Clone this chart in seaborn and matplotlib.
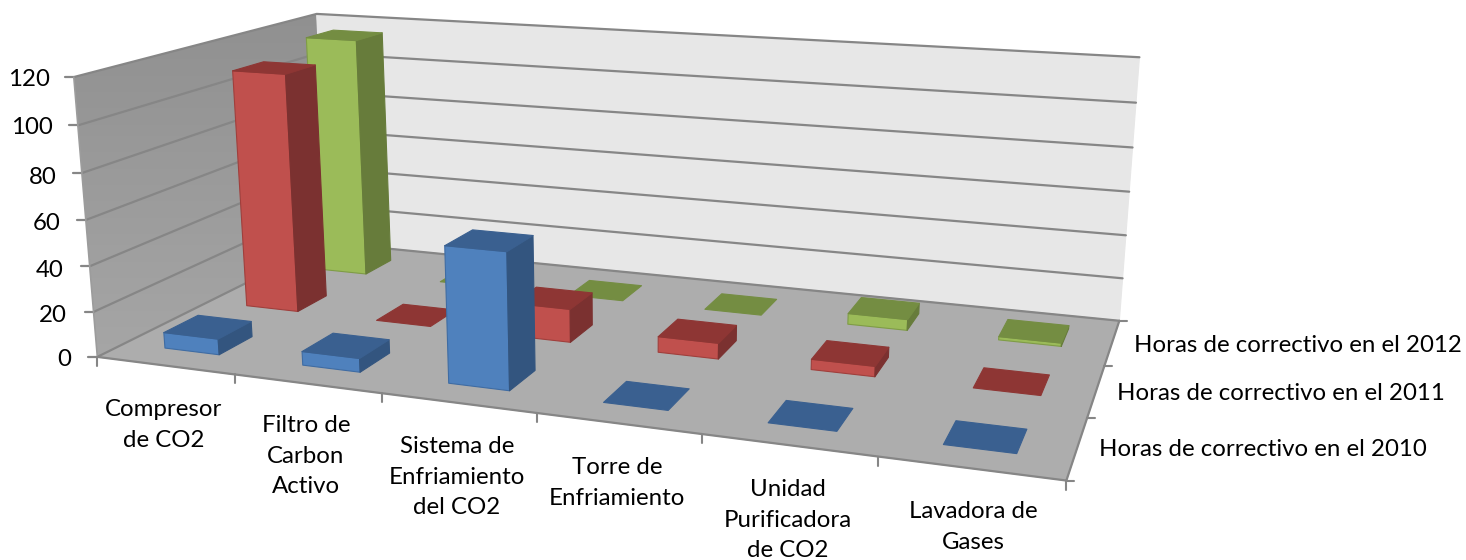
import numpy as np
import pandas as pd
import seaborn as sns
import matplotlib
matplotlib.use("Agg")
import matplotlib.pyplot as plt
from matplotlib.patches import Polygon

# Chart data
categories = ["Compresor\nde CO2", "Filtro de\nCarbon\nActivo", "Sistema de\nEnfriamiento\ndel CO2",
              "Torre de\nEnfriamiento", "Unidad\nPurificadora\nde CO2", "Lavadora de\nGases"]
series_names = ["Horas de correctivo en el 2010", "Horas de correctivo en el 2011",
                "Horas de correctivo en el 2012"]
hours_2010 = [7, 6, 58, 0, 0, 0]
hours_2011 = [110, 0, 15, 7, 4.5, 0]
hours_2012 = [115.5, 0, 0, 0, 5, 1.5]
value_ticks = [0, 20, 40, 60, 80, 100, 120]

frame = pd.DataFrame({"category": categories, series_names[0]: hours_2010,
                      series_names[1]: hours_2011, series_names[2]: hours_2012})
long_frame = frame.melt("category", var_name="series", value_name="hours")

sns.set_theme(style="white")
plt.rcParams["font.family"] = ["Lato", "DejaVu Sans"]

# Camera: a 3x4 projection fitted to the frame of the 3D box
# (category position, series depth, value) -> canvas pixels
frame_anchors = [
    ((0, 0, 0), (97, 356)), ((1, 0, 0), (235, 374)), ((2, 0, 0), (382, 393)), ((3, 0, 0), (537, 413)),
    ((4, 0, 0), (702, 435)), ((5, 0, 0), (878, 458)), ((6, 0, 0), (1067, 480)),
    ((6, 1, 0), (1087, 417)), ((6, 2, 0), (1103, 366)), ((6, 3, 0), (1119, 320)), ((0, 3, 0), (329, 243)),
    ((0, 0, 20), (93, 312)), ((0, 0, 40), (88, 267)), ((0, 0, 60), (86, 220)), ((0, 0, 80), (82, 173)),
    ((0, 0, 100), (79, 125)), ((0, 0, 120), (75, 77)), ((0, 3, 120), (315, 14)),
    ((6, 3, 20), (1123, 278)), ((6, 3, 40), (1126, 236)), ((6, 3, 60), (1130, 192)),
    ((6, 3, 80), (1133, 147)), ((6, 3, 100), (1136, 103)), ((6, 3, 120), (1139, 57)),
]


def fit_camera(anchors):
    rows = []
    for (u, v, w), (x, y) in anchors:
        w = w / 40.0
        rows.append([u, v, w, 1, 0, 0, 0, 0, -x * u, -x * v, -x * w, -x])
        rows.append([0, 0, 0, 0, u, v, w, 1, -y * u, -y * v, -y * w, -y])
    _, _, vh = np.linalg.svd(np.array(rows))
    return vh[-1].reshape(3, 4)


camera = fit_camera(frame_anchors)


def project(u, v, w):
    h = camera @ np.array([u, v, w / 40.0, 1.0])
    return h[0] / h[2], h[1] / h[2]


fig = plt.figure(figsize=(14.66, 5.6), dpi=100, facecolor="white")
ax = fig.add_axes([0, 0, 1, 1])
ax.axis("off")

n_cat, n_ser = len(categories), len(series_names)
top_value = value_ticks[-1]
grid_color = "#868686"


def quad(points, color, edge=None, z=1, lw=0.8):
    ax.add_patch(Polygon([project(*p) for p in points], closed=True, facecolor=color,
                         edgecolor=edge if edge else color, linewidth=lw, zorder=z, joinstyle="round"))


# Left wall with its soft vertical shading, back wall and floor
left_pts = [(0, 0, 0), (0, n_ser, 0), (0, n_ser, top_value), (0, 0, top_value)]
left_patch = Polygon([project(*p) for p in left_pts], closed=True, facecolor="none", edgecolor="none")
ax.add_patch(left_patch)
shade = ax.imshow(np.linspace(0, 1, 64).reshape(-1, 1), extent=(60, 340, 360, 10),
                  cmap=matplotlib.colors.LinearSegmentedColormap.from_list("wall", ["#909090", "#A6A6A6"]),
                  aspect="auto", zorder=1)
shade.set_clip_path(left_patch)
ax.set_xlim(0, 1466)
ax.set_ylim(560, 0)
quad([(0, n_ser, 0), (n_cat, n_ser, 0), (n_cat, n_ser, top_value), (0, n_ser, top_value)], "#E7E7E7", z=1)
quad([(0, 0, 0), (n_cat, 0, 0), (n_cat, n_ser, 0), (0, n_ser, 0)], "#ADADAD", z=2)

# Gridlines along both walls
for tick in value_ticks:
    xs, ys = zip(project(0, 0, tick), project(0, n_ser, tick), project(n_cat, n_ser, tick))
    ax.plot(xs, ys, color=grid_color, lw=1.6, zorder=3, solid_joinstyle="round")
    x0, y0 = project(0, 0, tick)
    ax.plot([x0 - 9, x0], [y0, y0], color=grid_color, lw=1.6, zorder=3)

# Axis frame and tick marks
xs, ys = zip(project(0, 0, 0), project(0, 0, top_value))
ax.plot(xs, ys, color="#9C9C9C", lw=1.2, zorder=3)
for edge in [((0, 0, 0), (n_cat, 0, 0)), ((n_cat, 0, 0), (n_cat, n_ser, 0))]:
    xs, ys = zip(project(*edge[0]), project(*edge[1]))
    ax.plot(xs, ys, color=grid_color, lw=1.6, zorder=3)
for c in range(n_cat + 1):
    x0, y0 = project(c, 0, 0)
    ax.plot([x0, x0], [y0, y0 + 9], color=grid_color, lw=1.5, zorder=3)
for s in range(n_ser + 1):
    x0, y0 = project(n_cat, s, 0)
    ax.plot([x0, x0 + 8], [y0, y0], color=grid_color, lw=1.5, zorder=3)

# Extruded bars: front, side and top shades per series
front_colors = sns.color_palette(["#4F81BD", "#C0504D", "#9BBB59"])
edge_colors = sns.color_palette(["#3F6CA3", "#A03F3C", "#7F9C46"])
side_colors = sns.color_palette(["#33557F", "#7B3130", "#677C3B"])
top_colors = sns.color_palette(["#3A6090", "#8E3634", "#748D42"])
half = 0.2

z = 10
for s in reversed(range(n_ser)):
    rows = long_frame[long_frame["series"] == series_names[s]].reset_index(drop=True)
    for c, value in enumerate(rows["hours"]):
        u0, u1 = c + 0.5 - half, c + 0.5 + half
        v0, v1 = s + 0.5 - half, s + 0.5 + half
        if value > 0:
            quad([(u0, v0, 0), (u1, v0, 0), (u1, v0, value), (u0, v0, value)], front_colors[s],
                 edge=edge_colors[s], z=z)
            quad([(u1, v0, 0), (u1, v1, 0), (u1, v1, value), (u1, v0, value)], side_colors[s], z=z)
        quad([(u0, v0, value), (u1, v0, value), (u1, v1, value), (u0, v1, value)], top_colors[s], z=z)
        z += 1

# Text labels
text_color = "#000000"
font_size = 17.3
for tick, right, y0 in zip(value_ticks, [71, 67, 64, 61, 57, 53, 50], [360, 315.5, 270.5, 223.5, 177, 128, 80]):
    ax.text(right, y0, str(tick), ha="right", va="center", fontsize=font_size, color=text_color, zorder=40)

cat_centers = [164, 306, 457, 617, 788, 973]
cat_tops = [399, 415, 436, 457, 479, 501]
for name, cx, top in zip(categories, cat_centers, cat_tops):
    ax.text(cx, top, name, ha="center", va="top", fontsize=font_size, color=text_color,
            linespacing=1.56, zorder=40)

ser_lefts = [1099, 1117, 1134]
ser_ys = [450, 393, 345]
for name, x0, y0 in zip(series_names, ser_lefts, ser_ys):
    ax.text(x0, y0, name, ha="left", va="center", fontsize=font_size, color=text_color, zorder=40)

fig.savefig("out.png", dpi=100, facecolor="white")
